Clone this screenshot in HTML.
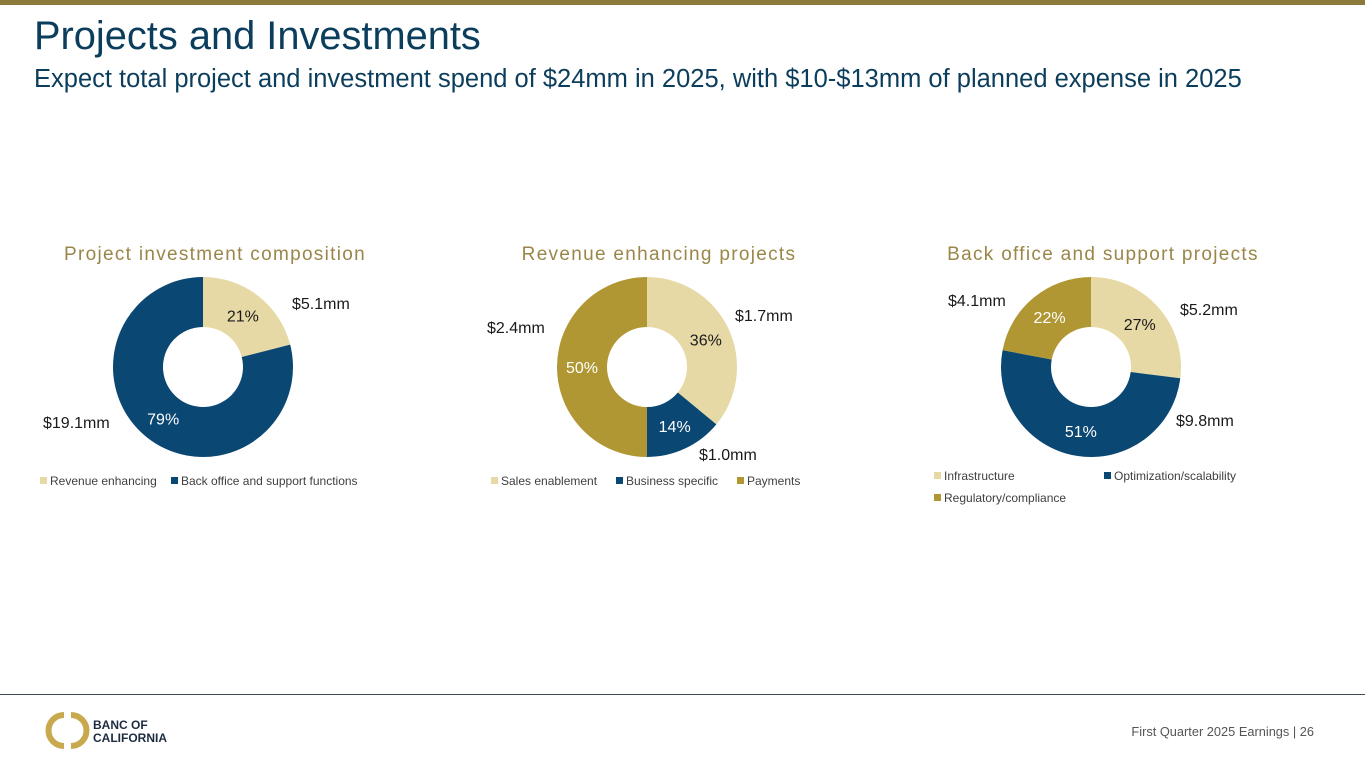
<!DOCTYPE html>
<html><head><meta charset="utf-8">
<style>
html,body{margin:0;padding:0;background:#fff;}
body{width:1365px;height:768px;overflow:hidden;position:relative;font-family:"Liberation Sans",sans-serif;}
svg{position:absolute;left:0;top:0;}
</style></head>
<body>
<svg id="s" width="1365" height="768" xmlns="http://www.w3.org/2000/svg" font-family="Liberation Sans, sans-serif">
<rect x="0" y="0" width="1365" height="5" fill="#8C7A3C"/>
<text x="34" y="49" font-size="39.8" fill="#0B3D5C">Projects and Investments</text>
<text x="34" y="87" font-size="25.5" fill="#0B3D5C">Expect total project and investment spend of $24mm in 2025, with $10-$13mm of planned expense in 2025</text>
<text x="215" y="260" font-size="19" fill="#9A8648" text-anchor="middle" letter-spacing="1.3">Project investment composition</text>
<text x="659" y="260" font-size="19" fill="#9A8648" text-anchor="middle" letter-spacing="1.3">Revenue enhancing projects</text>
<text x="1103" y="260" font-size="19" fill="#9A8648" text-anchor="middle" letter-spacing="1.3">Back office and support projects</text>
<g id="charts"></g>
<g font-size="16" fill="#1a1a1a">
<text x="292" y="309">$5.1mm</text>
<text x="43" y="428">$19.1mm</text>
<text x="735" y="321">$1.7mm</text>
<text x="699" y="460">$1.0mm</text>
<text x="487" y="333">$2.4mm</text>
<text x="1180" y="315">$5.2mm</text>
<text x="1176" y="426">$9.8mm</text>
<text x="948" y="306">$4.1mm</text>
</g>
<g font-size="12" fill="#404040">
<rect x="40" y="477" width="7" height="7" fill="#E6D9A5"/>
<text x="50" y="485">Revenue enhancing</text>
<rect x="171" y="477" width="7" height="7" fill="#0B4773"/>
<text x="181" y="485">Back office and support functions</text>
<rect x="491" y="477" width="7" height="7" fill="#E6D9A5"/>
<text x="501" y="485">Sales enablement</text>
<rect x="616" y="477" width="7" height="7" fill="#0B4773"/>
<text x="626" y="485">Business specific</text>
<rect x="737" y="477" width="7" height="7" fill="#B09733"/>
<text x="747" y="485">Payments</text>
<rect x="934" y="472" width="7" height="7" fill="#E6D9A5"/>
<text x="944" y="480">Infrastructure</text>
<rect x="1104" y="472" width="7" height="7" fill="#0B4773"/>
<text x="1114" y="480">Optimization/scalability</text>
<rect x="934" y="494" width="7" height="7" fill="#B09733"/>
<text x="944" y="502">Regulatory/compliance</text>
</g>
<line x1="0" y1="694.5" x2="1365" y2="694.5" stroke="#3A4A5A" stroke-width="1"/>
<g>
<path d="M64 715 A15 15 0 0 0 64 746" fill="none" stroke="#C9A94E" stroke-width="6"/>
<path d="M71 715 A15 15 0 0 1 71 746" fill="none" stroke="#C9A94E" stroke-width="6"/>
<text x="93" y="729" font-size="12" font-weight="bold" fill="#1C2B40">BANC OF</text>
<text x="93" y="742" font-size="12" font-weight="bold" fill="#1C2B40">CALIFORNIA</text>
</g>
<text x="1314" y="736" font-size="12.8" fill="#555" text-anchor="end">First Quarter 2025 Earnings |  26</text>
</svg>
<script>
const chart1Categories = ["Revenue enhancing", "Back office and support functions"];
const chart1Values = [21, 79];
const chart2Categories = ["Sales enablement", "Business specific", "Payments"];
const chart2Values = [36, 14, 50];
const chart3Categories = ["Infrastructure", "Optimization/scalability", "Regulatory/compliance"];
const chart3Values = [27, 51, 22];
const palette = ["#E6D9A5", "#0B4773", "#B09733"];
const labelColors = ["#1a1a1a", "#ffffff", "#ffffff"];

const NS = "http://www.w3.org/2000/svg";
const root = document.getElementById("charts");
function pt(cx, cy, r, a) { return [cx + r * Math.sin(a), cy - r * Math.cos(a)]; }
function donut(cx, cy, cats, vals, prefix) {
  const total = vals.reduce((a, b) => a + b, 0);
  const R = 90, r = 40;
  let a0 = 0;
  vals.forEach((v, i) => {
    const a1 = a0 + v / total * 2 * Math.PI;
    const large = (a1 - a0) > Math.PI ? 1 : 0;
    const p1 = pt(cx, cy, R, a0), p2 = pt(cx, cy, R, a1), p3 = pt(cx, cy, r, a1), p4 = pt(cx, cy, r, a0);
    const path = document.createElementNS(NS, "path");
    path.setAttribute("d", `M${p1[0]} ${p1[1]} A${R} ${R} 0 ${large} 1 ${p2[0]} ${p2[1]} L${p3[0]} ${p3[1]} A${r} ${r} 0 ${large} 0 ${p4[0]} ${p4[1]} Z`);
    path.setAttribute("fill", palette[i]);
    
    
    root.appendChild(path);
    const m = (a0 + a1) / 2;
    const lp = pt(cx, cy, 65, m);
    const t = document.createElementNS(NS, "text");
    t.setAttribute("x", lp[0]);
    t.setAttribute("y", lp[1] + 6);
    t.setAttribute("text-anchor", "middle");
    t.setAttribute("font-size", "16");
    t.setAttribute("fill", labelColors[i]);
    t.textContent = Math.round(v / total * 100) + "%";
    
    
    root.appendChild(t);
    a0 = a1;
  });
}
donut(203, 367, chart1Categories, chart1Values, "chart1");
donut(647, 367, chart2Categories, chart2Values, "chart2");
donut(1091, 367, chart3Categories, chart3Values, "chart3");
</script>
</body></html>
